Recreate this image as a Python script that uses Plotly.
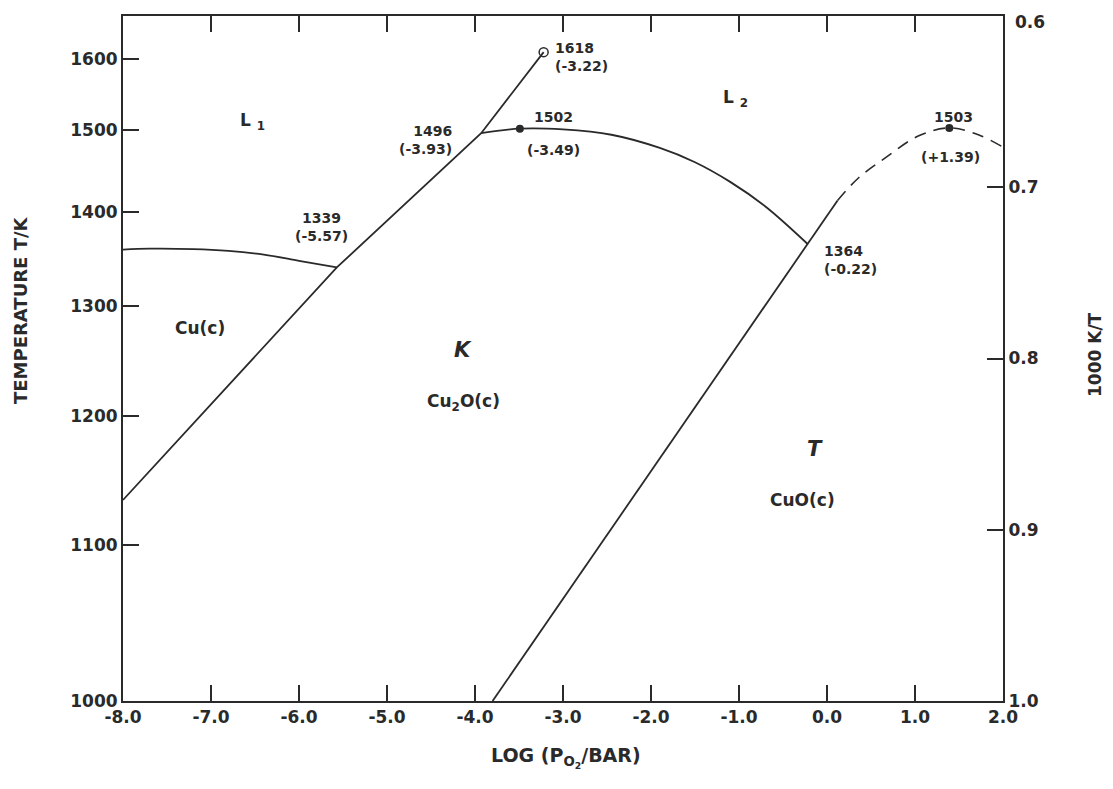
import plotly.graph_objects as go

# ---- data (logP(O2)/bar, T/K) ----
main_logp = [-8.0, -5.57, -3.93, -3.22]
main_T = [1133, 1339, 1496, 1610]

cu_liq_logp = [-8.0, -7.7, -7.2, -6.8, -6.4, -6.0, -5.57]
cu_liq_T = [1358, 1359, 1358.5, 1356.5, 1352.5, 1346, 1339]

cu2o_liq_logp = [-3.93, -3.49, -3.0, -2.45, -1.9, -1.5, -1.1, -0.7, -0.22]
cu2o_liq_T = [1496, 1502, 1501, 1494, 1477, 1459, 1435, 1406, 1364]

cuo_logp = [-3.8, -0.22, 0.12]
cuo_T = [1000, 1364, 1413]

cuo_dash_logp = [0.12, 0.36, 0.67, 1.03, 1.39, 1.72, 2.0]
cuo_dash_T = [1413, 1440, 1465, 1492, 1503, 1494, 1478]

open_pt_logp = [-3.22]
open_pt_T = [1610]
dots_logp = [-3.49, 1.39]
dots_T = [1502, 1503]

x_ticks = [-8, -7, -6, -5, -4, -3, -2, -1, 0, 1, 2]
x_ticktext = ["-8.0", "-7.0", "-6.0", "-5.0", "-4.0", "-3.0", "-2.0", "-1.0", "0.0", "1.0", "2.0"]
T_ticks = [1000, 1100, 1200, 1300, 1400, 1500, 1600]
inv_ticks = [0.6, 0.7, 0.8, 0.9, 1.0]
inv_ticktext = ["0.6", "0.7", "0.8", "0.9", "1.0"]

def inv(Ts):
    return [1000.0 / t for t in Ts]

INK = "#2a2a2a"
FONT = "DejaVu Sans"

fig = go.Figure()
line = dict(color=INK, width=1.8)
fig.add_trace(go.Scatter(x=main_logp, y=inv(main_T), mode="lines", line=line))
fig.add_trace(go.Scatter(x=cu_liq_logp, y=inv(cu_liq_T), mode="lines", line=dict(line, shape="spline")))
fig.add_trace(go.Scatter(x=cu2o_liq_logp, y=inv(cu2o_liq_T), mode="lines", line=dict(line, shape="spline")))
fig.add_trace(go.Scatter(x=cuo_logp, y=inv(cuo_T), mode="lines", line=line))
fig.add_trace(go.Scatter(x=cuo_dash_logp, y=inv(cuo_dash_T), mode="lines",
                         line=dict(color=INK, width=1.6, dash="12px,8px", shape="spline")))
fig.add_trace(go.Scatter(x=open_pt_logp, y=inv(open_pt_T), mode="markers",
                         marker=dict(symbol="circle-open", size=9, color=INK, line=dict(width=1.5, color=INK))))
fig.add_trace(go.Scatter(x=dots_logp, y=inv(dots_T), mode="markers",
                         marker=dict(symbol="circle", size=8, color=INK)))
# invisible trace to activate the right axis
fig.add_trace(go.Scatter(x=[None], y=[None], yaxis="y2", mode="lines", hoverinfo="skip"))

# target plot-area edges in page pixels; page body has an 8px margin
OFF = 8
L, R, T0, B = 123, 1003, 16, 701
W, H = 1113 - 2 * OFF, 789 - 2 * OFF

def P(xp, yp):
    return (xp - L) / (R - L), 1 - (yp - T0) / (B - T0)

anns = []
def txt(s, xp, yp, size=14, xa="center", align="center", **kw):
    x, y = P(xp, yp)
    anns.append(dict(text=s, x=x, y=y, xref="paper", yref="paper", xanchor=xa, yanchor="middle",
                     align=align, showarrow=False,
                     font=dict(family=FONT, size=size, color=INK, weight="bold"), **kw))

txt("1618<br>(-3.22)", 553, 57, xa="left", align="left")
txt("1496<br>(-3.93)", 454, 140, xa="right", align="right")
txt("1502", 553, 117)
txt("(-3.49)", 553, 150)
txt("1339<br>(-5.57)", 321, 227)
txt("1364<br>(-0.22)", 822, 260, xa="left", align="left")
txt("1503", 953, 117)
txt("(+1.39)", 950, 157)
txt("L <sub>1</sub>", 252, 121, size=17)
txt("L <sub>2</sub>", 735, 99, size=17)
txt("Cu(c)", 200, 328, size=17)
txt("<i>K</i>", 463, 350, size=21)
txt("Cu<sub>2</sub>O(c)", 463, 403, size=17)
txt("<i>T</i>", 815, 449, size=21)
txt("CuO(c)", 802, 500, size=17)
txt("TEMPERATURE T/K", 20, 310, size=18, textangle=-90)
txt("1000 K/T", 1095, 355, size=17, textangle=-90)
txt("LOG (P<sub>O<sub>2</sub></sub>/BAR)", 566, 757, size=19)
txt("0.6", 1013, 22, size=17, xa="left")

tickfont = dict(family=FONT, size=17, color=INK, weight="bold")
fig.update_layout(
    width=W, height=H,
    margin=dict(l=L - OFF, r=W - (R - OFF), t=T0 - OFF, b=H - (B - OFF), autoexpand=False),
    paper_bgcolor="white", plot_bgcolor="white",
    showlegend=False,
    annotations=anns,
    xaxis=dict(range=[-8, 2], tickvals=x_ticks, ticktext=x_ticktext, ticks="inside", ticklen=16,
               tickwidth=1.5, tickcolor=INK, showline=True, linecolor=INK, linewidth=2,
               mirror="ticks", showgrid=False, zeroline=False, tickfont=tickfont),
    yaxis=dict(range=[1.0, 0.6], tickvals=inv(T_ticks), ticktext=[str(t) for t in T_ticks],
               ticks="inside", ticklen=16, tickwidth=1.5, tickcolor=INK, showline=True,
               linecolor=INK, linewidth=2, showgrid=False, zeroline=False, tickfont=tickfont),
    yaxis2=dict(range=[1.0, 0.6], overlaying="y", side="right", tickvals=inv_ticks[1:],
                ticktext=inv_ticktext[1:], ticks="inside", ticklen=16, tickwidth=1.5, tickcolor=INK,
                showline=True, linecolor=INK, linewidth=2, showgrid=False, zeroline=False,
                tickfont=tickfont),
)

fig.write_html("out.html")
